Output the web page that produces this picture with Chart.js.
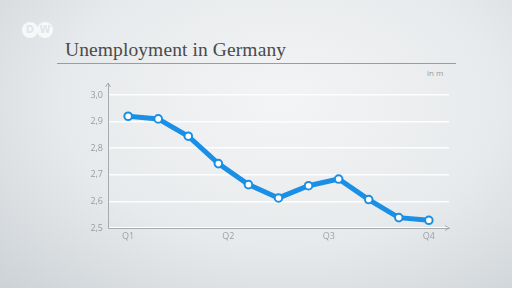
<!DOCTYPE html>
<html lang="en">
<head>
  <meta charset="UTF-8" />
  <title>Unemployment in Germany</title>
  <style>
    body {
      margin: 0;
      padding: 0;
      width: 512px;
      height: 288px;
      overflow: hidden;
      font-family: "Open Sans", Arial, sans-serif;
      background: radial-gradient(ellipse at 55% 35%, #f3f4f5 0%, #e7eaec 55%, #cdd2d6 100%);
    }

    .stage {
      position: relative;
      width: 512px;
      height: 288px;
    }

    .logo {
      position: absolute;
      left: 22px;
      top: 22px;
      width: 34px;
      height: 16px;
      opacity: 0.85;
    }

    .logo span {
      position: absolute;
      top: 0;
      width: 16px;
      height: 16px;
      border-radius: 50%;
      background: rgba(255, 255, 255, 0.9);
      color: #e4e6e8;
      font: bold 10px/16px "DejaVu Sans", sans-serif;
      text-align: center;
    }

    .title {
      position: absolute;
      left: 65px;
      top: 39px;
      font-family: "Liberation Serif", "DejaVu Serif", serif;
      font-size: 19.5px;
      color: #4a4a4a;
      letter-spacing: 0.1px;
    }

    .rule {
      position: absolute;
      left: 57px;
      top: 63px;
      width: 399px;
      height: 1px;
      background: #9a9c9e;
    }

    .unit {
      position: absolute;
      left: 427px;
      top: 67px;
      font-size: 8px;
      color: #999;
    }

    canvas {
      position: absolute;
      left: 0;
      top: 0;
    }
  </style>
  <script src="https://cdn.jsdelivr.net/npm/chart.js"></script>
</head>
<body>
  <div class="stage">
    <div class="logo"><span style="left:0">D</span><span style="left:15px">W</span></div>
    <div class="title">Unemployment in Germany</div>
    <div class="rule"></div>
    <div class="unit">in m</div>
    <canvas id="chart" width="512" height="288"></canvas>
  </div>

  <script>
    // Arbeitslose in Mio.
    const steps = [0, 1, 2, 3, 4, 5, 6, 7, 8, 9, 10];
    const werte = [2.92, 2.91, 2.845, 2.742, 2.663, 2.613, 2.659, 2.684, 2.607, 2.539, 2.529];
    const quartale = ['Q1', 'Q2', 'Q3', 'Q4'];
    const quartalPos = [0, 3.33, 6.67, 10];
    const yTicks = [2.5, 2.6, 2.7, 2.8, 2.9, 3.0];

    // kleine Pfeile an den Achsenenden
    const arrows = {
      id: 'arrows',
      afterDraw(chart) {
        const { ctx, chartArea } = chart;
        ctx.save();
        ctx.strokeStyle = '#a8abae';
        ctx.lineWidth = 1;
        ctx.beginPath();
        ctx.moveTo(chartArea.left - 2.5, chartArea.top + 4);
        ctx.lineTo(chartArea.left, chartArea.top);
        ctx.lineTo(chartArea.left + 2.5, chartArea.top + 4);
        ctx.moveTo(chartArea.right - 4, chartArea.bottom - 2.5);
        ctx.lineTo(chartArea.right, chartArea.bottom);
        ctx.lineTo(chartArea.right - 4, chartArea.bottom + 2.5);
        ctx.stroke();
        ctx.restore();
      }
    };

    const ctx = document.getElementById('chart').getContext('2d');
    new Chart(ctx, {
      type: 'line',
      data: {
        datasets: [{
          data: steps.map((s, i) => ({ x: s, y: werte[i] })),
          borderColor: '#1a8fe6',
          borderWidth: 5,
          pointRadius: 3.8,
          pointBorderWidth: 2,
          pointBackgroundColor: '#ffffff',
          pointBorderColor: '#1a8fe6',
          tension: 0
        }]
      },
      options: {
        responsive: false,
        animation: false,
        layout: { padding: { left: 0, right: 63, top: 83, bottom: 40 } },
        plugins: {
          legend: { display: false },
          tooltip: { enabled: false }
        },
        scales: {
          x: {
            type: 'linear',
            min: -0.67,
            max: 10.67,
            afterBuildTicks: (scale) => { scale.ticks = quartalPos.map(v => ({ value: v })); },
            afterFit: (scale) => { scale.height = 20; },
            ticks: {
              color: '#a0a2a4',
              font: { family: 'Open Sans', size: 9 },
              padding: 3,
              callback: (v, i) => quartale[i]
            },
            grid: { display: false, drawTicks: false },
            border: { display: true, color: '#a8abae', width: 1 }
          },
          y: {
            min: 2.5,
            max: 3.045,
            afterBuildTicks: (scale) => { scale.ticks = yTicks.map(v => ({ value: v })); },
            afterFit: (scale) => { scale.width = 108; },
            ticks: {
              color: '#9a9c9e',
              font: { family: 'Open Sans', size: 9 },
              padding: 5,
              callback: (v) => v.toFixed(1).replace('.', ',')
            },
            grid: { color: 'rgba(255,255,255,0.9)', lineWidth: 1.5, drawTicks: false },
            border: { display: true, color: '#a8abae', width: 1 }
          }
        }
      },
      plugins: [arrows]
    });
  </script>
</body>
</html>
